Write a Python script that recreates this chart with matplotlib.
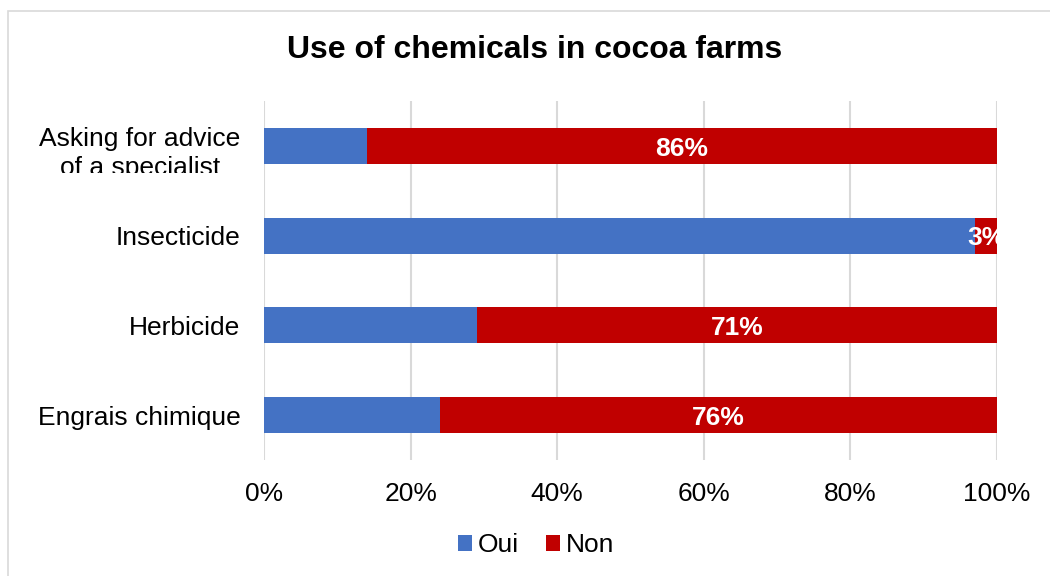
import matplotlib
matplotlib.use("Agg")
import matplotlib.pyplot as plt
from matplotlib.patches import Rectangle
from matplotlib.transforms import ScaledTranslation
from matplotlib.ticker import PercentFormatter

categories = ["Asking for advice\nof a specialist", "Insecticide", "Herbicide", "Engrais chimique"]
oui = [14, 97, 29, 24]
non = [86, 3, 71, 76]
series_names = ["Oui", "Non"]
colors = ["#4472C4", "#C00000"]
xticks = [0, 20, 40, 60, 80, 100]

plt.rcParams["font.family"] = ["Liberation Sans", "DejaVu Sans"]

fig = plt.figure(figsize=(10.5, 5.76), dpi=100)
ax = fig.add_axes([264 / 1050, 1 - 460 / 576, (997 - 264) / 1050, (460 - 101) / 576])

# outer chart frame
fig.patches.append(Rectangle((8 / 1050, -0.1), 2, 1 - 11 / 576 + 0.1,
                             transform=fig.transFigure, fill=False,
                             edgecolor="#D9D9D9", linewidth=1.2))

y = list(range(len(categories)))
ax.barh(y, oui, height=0.4, color=colors[0], label=series_names[0], zorder=3)
ax.barh(y, non, left=oui, height=0.4, color=colors[1], label=series_names[1], zorder=3)

for yi, o, n in zip(y, oui, non):
    ax.text(o + n / 2, yi + 0.03, f"{n}%", ha="center", va="center", color="white",
            fontsize=19, fontweight="bold", zorder=4, clip_on=True)

ax.set_xlim(0, 100)
ax.set_ylim(len(categories) - 0.5, -0.5)
ax.set_xticks(xticks)
ax.xaxis.set_major_formatter(PercentFormatter(decimals=0))
ax.set_yticks(y)
ax.set_yticklabels(categories, fontsize=19, linespacing=1.22, multialignment="center")
ax.tick_params(axis="x", labelsize=19, length=0, pad=16)
ax.tick_params(axis="y", length=0, pad=17)
ax.grid(axis="x", color="#D9D9D9", linewidth=1.5, zorder=0)
for s in ax.spines.values():
    s.set_visible(False)

# the two-line label sits a little low and is cut off just below the first bar
first = ax.get_yticklabels()[0]
first.set_transform(first.get_transform() + ScaledTranslation(0, -3 / 100, fig.dpi_scale_trans))
clip = Rectangle((0, 1 - 173 / 576), 1, 1, transform=fig.transFigure)
first.set_clip_path(clip)

fig.text(535 / 1050, 1 - 50 / 576, "Use of chemicals in cocoa farms",
         ha="center", va="center", fontsize=23, fontweight="bold")

fig.legend(loc="center", bbox_to_anchor=(536 / 1050, 1 - 545 / 576), ncol=2,
           frameon=False, fontsize=19, handlelength=0.55, handleheight=0.55,
           handletextpad=0.22, columnspacing=1.0)

fig.savefig("out.png", dpi=100, facecolor="white")
